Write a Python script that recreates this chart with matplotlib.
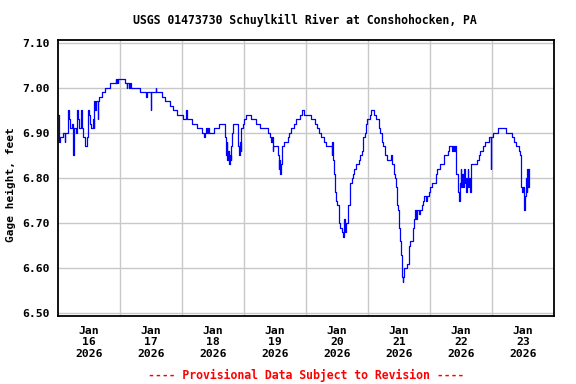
import numpy as np
import matplotlib
matplotlib.use("Agg")
import matplotlib.pyplot as plt

# gage height readings, hours after Jan 16 2026 00:00
hours = [0.0, 0.25, 0.8, 2.1, 2.6, 2.9, 4.0, 4.2, 4.8, 5.6, 5.8, 6.0, 6.8, 7.5, 7.7, 8.2, 8.9, 9.1,
         9.8, 10.5, 11.1, 11.7, 11.9, 12.2, 12.7, 13.4, 13.8, 14.0, 14.4, 14.7, 15.3, 15.6, 16.0,
         16.9, 18.2, 20.1, 22.4, 22.6, 22.9, 23.1, 23.2, 25.8, 26.6, 26.9, 27.4, 27.7, 28.2, 31.6,
         33.9, 34.6, 35.9, 36.1, 37.8, 38.1, 40.1, 41.4, 43.4, 44.6, 45.9, 48.5, 49.5, 49.8, 51.8,
         53.7, 55.8, 56.4, 56.8, 57.2, 57.5, 57.9, 58.3, 60.5, 62.5, 64.8, 65.0, 65.3, 65.6, 65.9,
         66.2, 66.5, 66.8, 67.1, 67.4, 67.8, 69.6, 69.8, 70.1, 70.4, 70.7, 71.0, 71.5, 72.0, 72.7,
         74.7, 76.6, 78.3, 81.2, 82.0, 82.4, 82.7, 83.1, 83.4, 85.0, 85.4, 85.7, 86.1, 86.4, 86.7,
         87.6, 88.9, 89.6, 90.2, 91.5, 92.2, 93.5, 94.5, 95.2, 97.9, 99.6, 100.3, 101.2, 102.0,
         103.1, 103.7, 105.9, 106.0, 106.3, 106.8, 107.1, 107.6, 108.0, 108.6, 108.9, 109.3, 109.8,
         110.4, 110.8, 111.1, 111.5, 112.1, 113.0, 113.8, 114.2, 114.7, 115.4, 116.6, 117.0, 117.5,
         117.9, 118.2, 118.7, 119.2, 119.8, 120.8, 121.3, 122.4, 123.3, 124.1, 124.6, 125.4, 125.9,
         126.7, 127.2, 129.0, 129.4, 129.9, 130.5, 130.8, 131.1, 131.5, 132.0, 132.4, 132.7, 133.2,
         133.4, 133.7, 134.0, 135.0, 136.0, 136.4, 137.3, 137.7, 138.3, 138.6, 138.9, 139.6, 140.2,
         140.9, 141.4, 141.8, 142.3, 142.7, 143.5, 144.0, 144.8, 146.3, 146.9, 147.9, 149.5, 150.8,
         151.4, 152.0, 152.5, 152.8, 153.2, 153.6, 154.1, 154.8, 155.2, 155.6, 155.9, 156.2, 156.5,
         156.8, 157.1, 157.4, 157.7, 158.0, 158.3, 158.6, 158.9, 159.2, 159.6, 160.0, 162.2, 162.9,
         163.5, 164.5, 165.4, 167.0, 167.6, 167.8, 168.6, 170.2, 173.6, 175.9, 176.6, 177.5, 178.4,
         178.8, 179.2, 179.4, 179.8, 180.1, 180.5, 180.8, 181.1, 181.4, 181.7, 182.0, 182.3]
gage = [6.94, 6.88, 6.89, 6.90, 6.88, 6.90, 6.95, 6.93, 6.91, 6.92, 6.85, 6.91, 6.90, 6.95, 6.93, 6.91, 6.95, 6.91,
        6.89, 6.87, 6.89, 6.95, 6.94, 6.92, 6.91, 6.93, 6.91, 6.97, 6.95, 6.97, 6.93, 6.97, 6.98,
        6.99, 7.00, 7.01, 7.02, 7.01, 7.02, 7.01, 7.02, 7.01, 7.00, 7.01, 7.00, 7.01, 7.00, 6.99,
        6.98, 6.99, 6.95, 6.99, 7.00, 6.99, 6.98, 6.97, 6.96, 6.95, 6.94, 6.93, 6.95, 6.93, 6.92,
        6.91, 6.90, 6.89, 6.90, 6.91, 6.90, 6.91, 6.90, 6.91, 6.92, 6.89, 6.85, 6.88, 6.84, 6.86,
        6.83, 6.85, 6.84, 6.87, 6.90, 6.92, 6.89, 6.87, 6.85, 6.88, 6.86, 6.91, 6.92, 6.93, 6.94,
        6.93, 6.92, 6.91, 6.90, 6.89, 6.88, 6.89, 6.86, 6.87, 6.85, 6.82, 6.84, 6.81, 6.83, 6.87,
        6.88, 6.89, 6.90, 6.91, 6.92, 6.93, 6.94, 6.95, 6.94, 6.93, 6.92, 6.91, 6.90, 6.89,
        6.88, 6.87, 6.85, 6.88, 6.84, 6.81, 6.77, 6.75, 6.74, 6.72, 6.70, 6.69, 6.68,
        6.67, 6.71, 6.68, 6.70, 6.74, 6.79, 6.80, 6.81, 6.82, 6.83, 6.84, 6.85, 6.86,
        6.87, 6.89, 6.90, 6.92, 6.93, 6.94, 6.95, 6.94, 6.93, 6.91, 6.90, 6.88, 6.87,
        6.85, 6.84, 6.85, 6.83, 6.81, 6.80, 6.78, 6.74, 6.73, 6.69, 6.66, 6.63, 6.58,
        6.57, 6.58, 6.60, 6.61, 6.65, 6.66, 6.69, 6.71, 6.73, 6.71, 6.73, 6.72, 6.73,
        6.74, 6.75, 6.76, 6.75, 6.76, 6.77, 6.78, 6.79, 6.81, 6.82, 6.83, 6.85, 6.86,
        6.87, 6.87, 6.86, 6.87, 6.86, 6.87, 6.81, 6.77, 6.75, 6.79, 6.82, 6.78, 6.81,
        6.78, 6.82, 6.79, 6.80, 6.77, 6.80, 6.82, 6.78, 6.80, 6.77, 6.83, 6.84, 6.85,
        6.86, 6.87, 6.88, 6.89, 6.82, 6.89, 6.90, 6.91, 6.90, 6.89, 6.88, 6.87, 6.86,
        6.85, 6.81, 6.78, 6.77, 6.78, 6.73, 6.76, 6.80, 6.77, 6.82, 6.78, 6.82]

day_labels = ["Jan\n16\n2026", "Jan\n17\n2026", "Jan\n18\n2026", "Jan\n19\n2026",
              "Jan\n20\n2026", "Jan\n21\n2026", "Jan\n22\n2026", "Jan\n23\n2026"]
y_ticks = [6.50, 6.60, 6.70, 6.80, 6.90, 7.00, 7.10]

font = "DejaVu Sans Mono"

fig = plt.figure(figsize=(5.76, 3.84), dpi=100)
ax = fig.add_axes([0.1007, 0.177, 0.861, 0.72])

ax.plot(hours, gage, color="#0000ff", linewidth=0.9, drawstyle="steps-post")

# midnight grid lines, labels at noon
ax.set_xlim(0, 192)
ax.set_xticks(np.arange(24, 192, 24))
ax.set_xticklabels([])
ax.set_xticks(np.arange(12, 192, 24), minor=True)
ax.set_xticklabels(day_labels, minor=True, fontfamily=font, fontweight="bold",
                   fontsize=8.2, linespacing=1.2)
ax.tick_params(axis="x", which="both", length=0, pad=7)

ax.set_ylim(6.494, 7.107)
ax.set_yticks(y_ticks)
ax.set_yticklabels(["%.2f" % v for v in y_ticks], fontfamily=font, fontweight="bold", fontsize=8.2)
ax.tick_params(axis="y", length=0, pad=6)

ax.grid(True, which="major", color="#c8c8c8", linewidth=1.0)
ax.set_axisbelow(True)
for s in ax.spines.values():
    s.set_linewidth(1.3)
    s.set_color("black")

fig.text(0.019, 0.52, "Gage height, feet", rotation=90, ha="center", va="center",
         fontfamily=font, fontweight="bold", fontsize=8.0)
fig.text(0.529, 0.948, "USGS 01473730 Schuylkill River at Conshohocken, PA", ha="center", va="center",
         fontfamily=font, fontweight="bold", fontsize=8.3)
fig.text(0.531, 0.023, "---- Provisional Data Subject to Revision ----", ha="center", va="center",
         fontfamily=font, fontweight="bold", fontsize=8.3, color="red")

fig.savefig("out.png", dpi=100)
